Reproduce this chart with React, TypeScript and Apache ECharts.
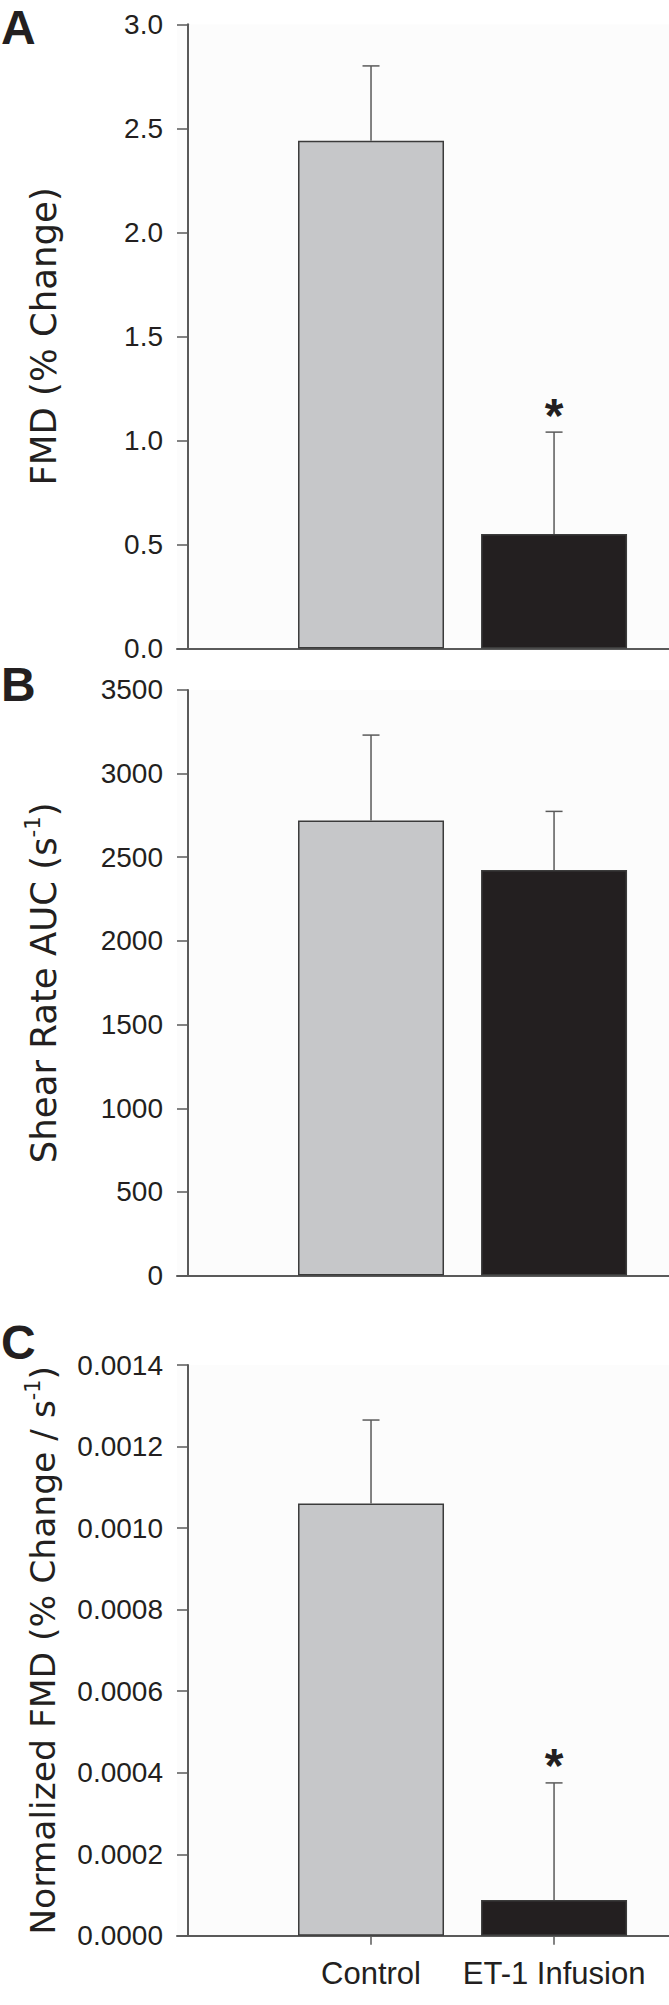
import React, { useEffect, useRef } from "react";
import * as echarts from "echarts";

// ---- Data ----
const categories = ["Control", "ET-1 Infusion"];
const panelLetters = ["A", "B", "C"];

// Panel A: FMD (% change)
const fmdMean = [2.44, 0.55];
const fmdSem = [0.36, 0.49];
const fmdSig = [false, true];

// Panel B: Shear rate AUC (s^-1)
const shearMean = [2720, 2424];
const shearSem = [510, 350];
const shearSig = [false, false];

// Panel C: Normalized FMD (% change / s^-1)
const normMean = [0.00106, 0.000088];
const normSem = [0.000205, 0.000287];
const normSig = [false, true];

// Axis tick settings
const yMaxes = [3.0, 3500, 0.0014];
const yIntervals = [0.5, 500, 0.0002];
const yDecimals = [1, 0, 4];

const FONT = '"Liberation Sans", Arial, Helvetica, sans-serif';
const TITLE_FONT = '"DejaVu Sans", Verdana, sans-serif';
const TEXT = "#231f20";
const AXIS = "#5a5a5a";
const BAR_FILLS = ["#c6c7c9", "#231f20"];

const W = 669;
const H = 2005;

// layout of the three panels (pixel positions)
const panelTops = [24.3, 689.9, 1365];
const panelHeights = [624.2, 585.7, 570.8];
const letterTop = [3, 660, 1318];
const titleSizes = [35.5, 35.5, 34.5];
const gridLeft = 177;
const xMin = -0.06;
const xMax = 2.628;

function richName(size: number) {
  return {
    a: { fontSize: size, fontFamily: TITLE_FONT, color: TEXT, lineHeight: 42 },
    sup: { fontSize: size * 0.6, fontFamily: TITLE_FONT, color: TEXT, lineHeight: 42, verticalAlign: "top" as const },
  };
}

const yNames = [
  "{a|FMD (% Change)}",
  "{a|Shear Rate AUC (s}{sup|-1}{a|)}",
  "{a|Normalized FMD (% Change / s}{sup|-1}{a|)}",
];

const means = [fmdMean, shearMean, normMean];
const sems = [fmdSem, shearSem, normSem];
const sigs = [fmdSig, shearSig, normSig];

function buildOption() {
  const grid: any[] = [];
  const xAxis: any[] = [];
  const yAxis: any[] = [];
  const series: any[] = [];

  for (let i = 0; i < 3; i++) {
    const showX = i === 2;
    grid.push({
      left: gridLeft,
      right: 0,
      top: panelTops[i],
      height: panelHeights[i],
      show: true,
      backgroundColor: "#fcfcfc",
      borderWidth: 0,
    });
    xAxis.push({
      type: "value",
      gridIndex: i,
      min: xMin,
      max: xMax,
      splitLine: { show: false },
      axisLine: { show: true, onZero: true, lineStyle: { color: AXIS, width: 2 } },
      axisTick: {
        show: showX,
        customValues: [1, 2],
        length: 9,
        lineStyle: { color: AXIS, width: 1.5 },
      },
      axisLabel: {
        show: showX,
        customValues: [1, 2],
        formatter: (v: number) => categories[Math.round(v) - 1] ?? "",
        fontSize: 31,
        fontFamily: FONT,
        color: TEXT,
        margin: 22,
      },
    });
    yAxis.push({
      type: "value",
      gridIndex: i,
      min: 0,
      max: yMaxes[i],
      interval: yIntervals[i],
      splitLine: { show: false },
      axisLine: { show: true, onZero: true, lineStyle: { color: AXIS, width: 2 } },
      axisTick: { show: true, length: 11, lineStyle: { color: AXIS, width: 1.5 } },
      axisLabel: {
        fontSize: 28,
        fontFamily: FONT,
        color: TEXT,
        margin: 14,
        formatter: (v: number) => v.toFixed(yDecimals[i]),
      },
      name: yNames[i],
      nameLocation: "middle",
      nameGap: 113,
      nameTextStyle: { fontSize: titleSizes[i], fontFamily: TITLE_FONT, color: TEXT, rich: richName(titleSizes[i]) },
    });

    series.push({
      type: "bar",
      xAxisIndex: i,
      yAxisIndex: i,
      barWidth: 146,
      z: 2,
      itemStyle: { borderColor: "#3b3b3b", borderWidth: 1.5 },
      data: means[i].map((m, j) => ({
        value: [j + 1, m],
        itemStyle: { color: BAR_FILLS[j] },
      })),
    });

    series.push({
      type: "custom",
      xAxisIndex: i,
      yAxisIndex: i,
      z: 3,
      data: means[i].map((m, j) => [j + 1, m, m + sems[i][j], sigs[i][j] ? 1 : 0]),
      renderItem: (params: any, api: any) => {
        const x = api.value(0);
        const m = api.value(1);
        const u = api.value(2);
        const star = api.value(3);
        const p0 = api.coord([x, m]);
        const p1 = api.coord([x, u]);
        const lineStyle = { stroke: AXIS, lineWidth: 1.5 };
        const children: any[] = [
          { type: "line", shape: { x1: p0[0], y1: p0[1], x2: p1[0], y2: p1[1] }, style: lineStyle },
          { type: "line", shape: { x1: p1[0] - 8.5, y1: p1[1], x2: p1[0] + 8.5, y2: p1[1] }, style: lineStyle },
        ];
        if (star) {
          children.push({
            type: "text",
            x: p1[0],
            y: p1[1] - 17,
            style: {
              text: "*",
              fontSize: 48,
              fontWeight: "bold",
              fontFamily: FONT,
              fill: TEXT,
              align: "center",
              verticalAlign: "middle",
            },
          });
        }
        return { type: "group", children };
      },
    });
  }

  const graphic = panelLetters.map((t, i) => ({
    type: "text",
    x: 1,
    y: letterTop[i],
    style: {
      text: t,
      fontSize: 48,
      fontWeight: "bold",
      fontFamily: FONT,
      fill: TEXT,
      align: "left",
      verticalAlign: "top",
    },
  }));

  return {
    animation: false,
    backgroundColor: "#ffffff",
    grid,
    xAxis,
    yAxis,
    series,
    graphic,
  };
}

export default function App() {
  const ref = useRef<HTMLDivElement>(null);
  useEffect(() => {
    if (!ref.current) return;
    const chart = echarts.init(ref.current, undefined, { renderer: "svg", width: W, height: H });
    chart.setOption(buildOption() as any);
    return () => chart.dispose();
  }, []);
  return (
    <div
      ref={ref}
      style={{ position: "absolute", left: 0, top: 0, width: W, height: H }}
    />
  );
}
